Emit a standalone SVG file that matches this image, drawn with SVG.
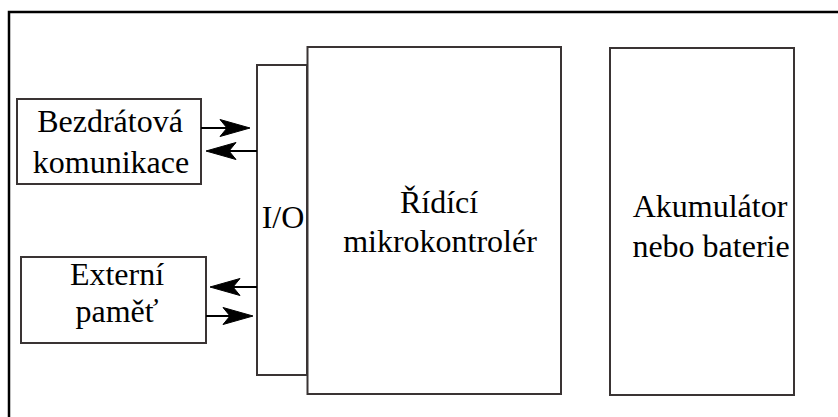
<svg xmlns="http://www.w3.org/2000/svg" xmlns:xlink="http://www.w3.org/1999/xlink" width="838" height="417" viewBox="0 0 838 417">
  <style>
    .frame { fill: none; stroke: #000; stroke-width: 2.5; }
    .box { fill: #fff; stroke: #3a3434; stroke-width: 2; }
    .lbl { font-family: 'Liberation Serif', 'DejaVu Serif', serif; font-size: 32px; fill: #000; text-anchor: middle; }
    .wire { fill: none; stroke: #000; stroke-width: 2; }
    .tip { fill: #000; stroke: #000; stroke-width: 1; stroke-linejoin: miter; }
  </style>
  <defs>
    <!-- barbed arrowhead, tip at the origin, pointing +x -->
    <path id="ah" class="tip" d="M0,0 L-30,-8.5 L-23,0 L-30,8.5 Z"/>
  </defs>

  <rect width="838" height="417" fill="#fff"/>

  <!-- enclosing frame (runs past the right and bottom edges) -->
  <rect class="frame" x="9" y="12" width="840" height="420"/>

  <g id="wireless">
    <rect class="box" x="17" y="99" width="184" height="85"/>
    <text class="lbl" x="110" y="132">Bezdrátová</text>
    <text class="lbl" x="111" y="173">komunikace</text>
  </g>

  <g id="memory">
    <rect class="box" x="21" y="257" width="185" height="86"/>
    <text class="lbl" x="117" y="285">Externí</text>
    <text class="lbl" x="117" y="322">paměť</text>
  </g>

  <g id="io">
    <rect class="box" x="257" y="65" width="50" height="310"/>
    <text class="lbl" x="283" y="228">I/O</text>
  </g>

  <g id="mcu">
    <rect class="box" x="307.5" y="47" width="253.5" height="347"/>
    <text class="lbl" x="439" y="213">Řídící</text>
    <text class="lbl" x="440" y="252">mikrokontrolér</text>
  </g>

  <g id="battery">
    <rect class="box" x="610" y="48" width="184" height="347"/>
    <text class="lbl" x="710" y="217">Akumulátor</text>
    <text class="lbl" x="711" y="257">nebo baterie</text>
  </g>

  <g id="connectors">
    <line class="wire" x1="201" y1="128" x2="230" y2="128"/>
    <use xlink:href="#ah" transform="translate(250,128)"/>
    <line class="wire" x1="257" y1="151" x2="226" y2="151"/>
    <use xlink:href="#ah" transform="translate(206,151) rotate(180)"/>
    <line class="wire" x1="257" y1="287" x2="230" y2="287"/>
    <use xlink:href="#ah" transform="translate(210,287) rotate(180)"/>
    <line class="wire" x1="206" y1="316" x2="233" y2="316"/>
    <use xlink:href="#ah" transform="translate(253,316)"/>
  </g>
</svg>
